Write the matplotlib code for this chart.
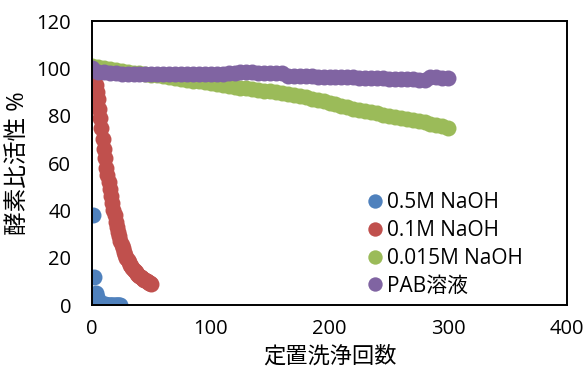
import matplotlib.pyplot as plt
import numpy as np

plt.rcParams["font.family"] = ["Open Sans", "Noto Sans CJK JP", "DejaVu Sans"]

# enzyme specific activity (%) vs. number of CIP cycles
naoh_05_x = np.arange(0, 25)
naoh_05 = [100, 38, 12, 5, 3.5, 2, 1.2, 0.8, 0.5, 0.4, 0.3, 0.3, 0.2,
           0.2, 0.2, 0.2, 0.2, 0.2, 0.2, 0.2, 0.2, 0.2, 0.2, 0.2, 0.2]

naoh_01_x = np.arange(0, 51)
naoh_01 = [100, 98, 96, 93, 90, 87, 83, 79, 75, 70, 66, 62, 58, 55, 52, 49,
           46, 43, 40, 38, 35, 33, 31, 29, 27, 25.5, 24, 22.5, 21, 20, 19, 18,
           17, 16.3, 15.6, 15, 14.4, 13.8, 13.3, 12.8, 12.3, 11.9, 11.5, 11.1,
           10.7, 10.4, 10.1, 9.8, 9.5, 9.2, 8.9]

naoh_0015_x = np.arange(0, 301, 5)
naoh_0015 = [101, 100.6, 100.2, 99.8, 99.4, 99, 98.6, 98.2, 97.9, 97.6,
             97.3, 97, 96.6, 96.3, 96, 95.6, 95.2, 94.8, 94.5, 94.1,
             93.8, 93.4, 93, 92.6, 92.2, 91.9, 91.5, 91.2, 90.9, 90.6,
             90.3, 90, 89.6, 89.2, 88.8, 88.3, 87.8, 87.2, 86.6, 86,
             85.4, 84.8, 84.2, 83.6, 83, 82.5, 82, 81.5, 81, 80.5,
             80, 79.5, 79, 78.6, 78.2, 77.7, 77.2, 76.7, 76.2, 75.6, 75]

pab_x = np.arange(0, 301, 5)
pab = [100, 98.5, 98.3, 98.2, 98, 97.8, 97.6, 97.5, 97.5, 97.6,
       97.6, 97.6, 97.7, 97.7, 97.7, 97.7, 97.7, 97.6, 97.6, 97.7,
       97.7, 97.8, 97.8, 97.9, 98.2, 98.3, 98.3, 98.3, 98.2, 98.2,
       98.2, 98.1, 98.2, 96.8, 96.7, 96.7, 96.6, 96.6, 96.5, 96.5,
       96.5, 96.4, 96.3, 96.3, 96.2, 96.1, 96, 96, 95.9, 95.8,
       95.7, 95.6, 95.5, 95.4, 95.3, 95.2, 95, 96.5, 96.2, 96.1, 96]

series = [
    (naoh_05_x, naoh_05, "#4F81BD", "0.5M NaOH"),
    (naoh_01_x, naoh_01, "#C0504D", "0.1M NaOH"),
    (naoh_0015_x, naoh_0015, "#9BBB59", "0.015M NaOH"),
    (pab_x, pab, "#8064A2", "PAB溶液"),
]

fig = plt.figure(figsize=(5.87, 3.69), dpi=100)
ax = fig.add_axes([0.1567, 0.1734, 0.8093, 0.7696])

for x, y, c, name in series:
    ax.plot(x, y, "o", color=c, markersize=11.5, markeredgewidth=0, label=name)

ax.set_xlim(0, 400)
ax.set_ylim(0, 120)
ax.set_xticks([0, 100, 200, 300, 400])
ax.set_yticks([0, 20, 40, 60, 80, 100, 120])
ax.tick_params(axis="both", length=0, labelsize=14.5)
ax.tick_params(axis="y", pad=15)
ax.tick_params(axis="x", pad=10)
for s in ax.spines.values():
    s.set_linewidth(1.4)
    s.set_color("black")

ax.set_xlabel("定置洗浄回数", fontsize=16, labelpad=5)
ax.set_ylabel("酵素比活性 %", fontsize=17, labelpad=5)

ax.legend(loc="lower right", frameon=False, fontsize=15, handletextpad=0.1,
          handlelength=1.0, markerscale=0.9, labelspacing=0.33,
          borderaxespad=0.0, bbox_to_anchor=(0.925, 0.0))

fig.savefig("out.png", dpi=100)
